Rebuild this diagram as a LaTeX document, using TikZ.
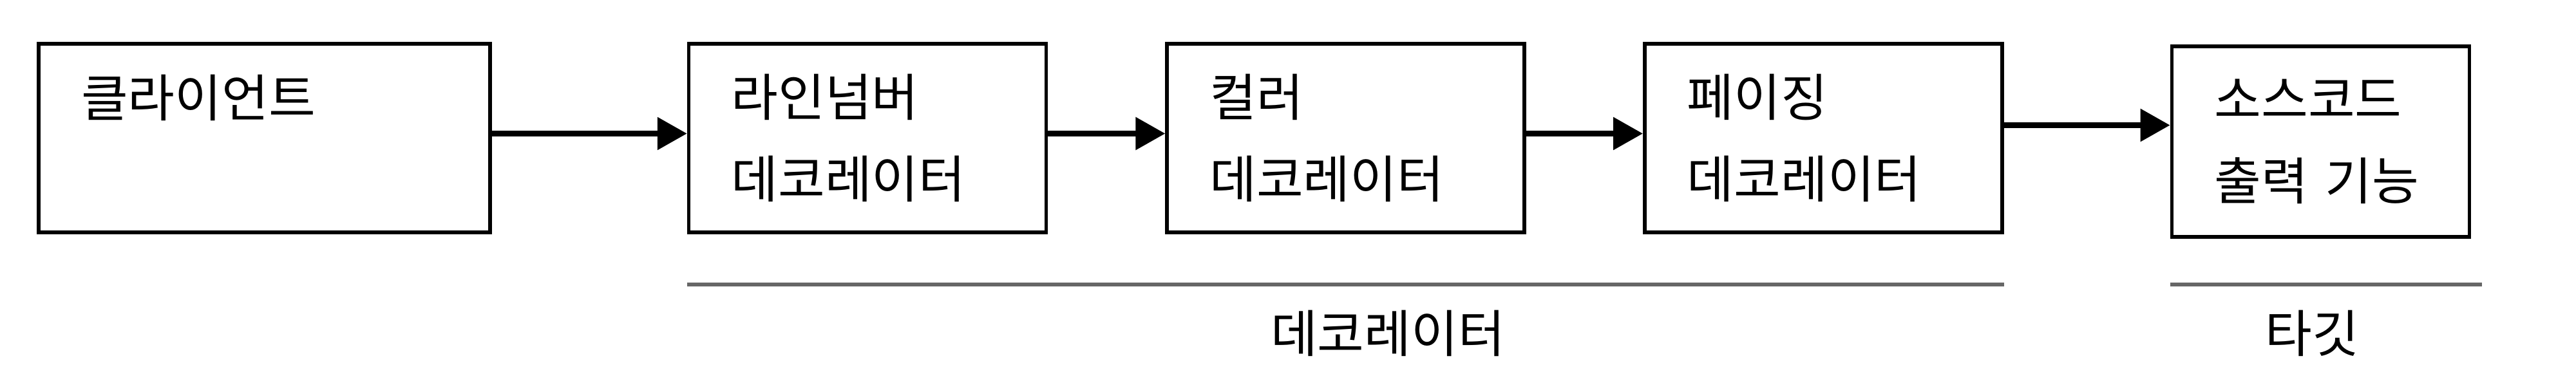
\documentclass[tikz,border=0pt]{standalone}
\usepackage{fontspec}
\setmainfont{Noto Sans CJK KR}
\usetikzlibrary{arrows.meta,positioning,calc}

\begin{document}
\begin{tikzpicture}[
    box/.style={draw, line width=1.6pt, minimum height=2.93cm, inner xsep=0.66cm,
                align=left, font=\fontsize{22.5}{36}\selectfont},
    arr/.style={line width=2.6pt, -{Triangle[length=0.46cm,width=0.49cm]}},
    bar/.style={draw=black!60, line width=1.7pt},
    lbl/.style={font=\fontsize{22.5}{26}\selectfont}]
    \useasboundingbox (0,0) rectangle (40,-6.09);

    % Client and decorators
    \node[box, minimum width=7.01cm, text width=5.69cm] (client) at (4.105,-2.145)
        {클라이언트\\ \phantom{클}};
    \node[box, minimum width=5.55cm, text width=4.23cm, right=3.03cm of client] (linenum)
        {라인넘버\\ 데코레이터};
    \node[box, minimum width=5.55cm, text width=4.23cm, right=1.82cm of linenum] (color)
        {컬러\\ 데코레이터};
    \node[box, minimum width=5.55cm, text width=4.23cm, right=1.81cm of color] (paging)
        {페이징\\ 데코레이터};

    % Target
    \node[box, minimum width=4.62cm, minimum height=2.96cm, text width=3.30cm,
          right=2.58cm of paging, yshift=-0.055cm] (source)
        {소스코드\\ 출력 기능};

    % Arrows
    \draw[arr] ([yshift=0.07cm]client.east) -- ([yshift=0.07cm]linenum.west);
    \draw[arr] ([yshift=0.07cm]linenum.east) -- ([yshift=0.07cm]color.west);
    \draw[arr] ([yshift=0.07cm]color.east) -- ([yshift=0.07cm]paging.west);
    \draw[arr] ([yshift=0.2cm]paging.east) -- ([yshift=0.2cm]paging.east -| source.west);

    % Group bars and captions
    \draw[bar] ([yshift=-0.78cm]linenum.south west) -- ([yshift=-0.78cm]paging.south east);
    \draw[bar] ([yshift=-0.71cm]source.south west) -- ++(4.84,0);
    \node[lbl] (declbl) at (21.55,-5.18) {데코레이터};
    \node[lbl] (tgtlbl) at (35.90,-5.18) {타깃};
\end{tikzpicture}
\end{document}
